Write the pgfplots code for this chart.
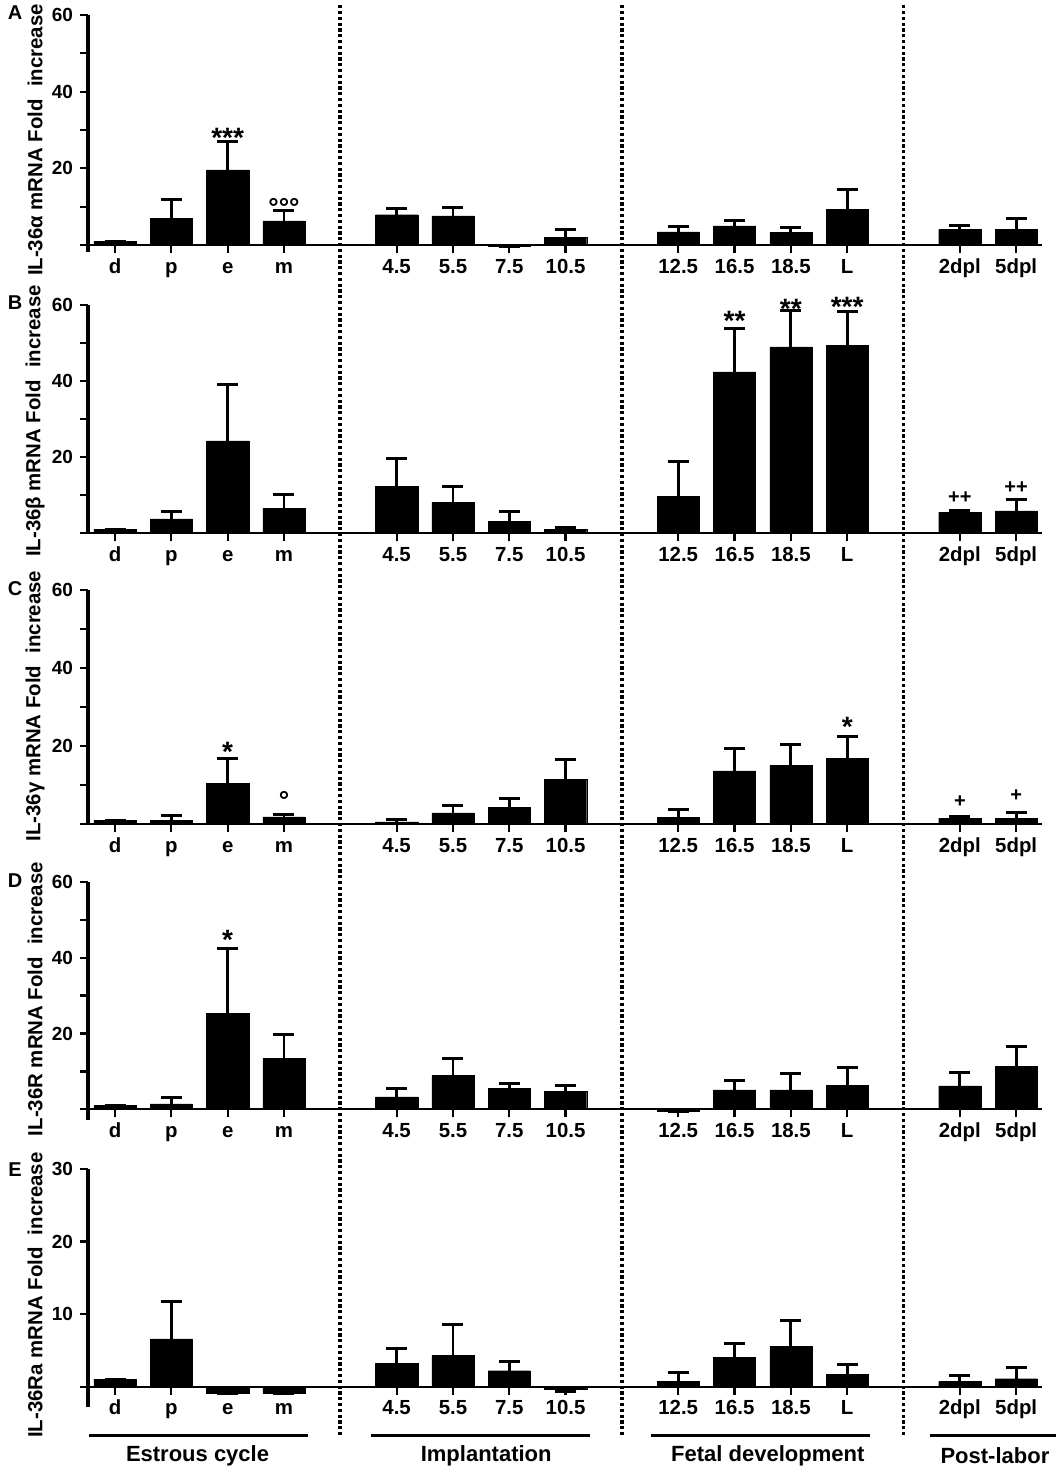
\documentclass[border=0pt]{standalone}
\usepackage{pgfplots}
\pgfplotsset{compat=1.18}
\usepackage{fontspec}
\setmainfont{Liberation Sans}
\newcommand{\fs}[1]{\fontsize{#1}{#1}\selectfont}
\newcommand{\st}[3]{\node[font=\bfseries\fs{14bp}, inner sep=0pt, anchor=base, yshift=-8bp] at (axis cs:#1,#2) {#3};}
\newcommand{\dg}[3]{\node[font=\bfseries\fs{13bp}, inner sep=0pt, anchor=base, yshift=-7.5bp] at (axis cs:#1,#2) {#3};}
\newcommand{\pl}[3]{\node[font=\bfseries\fs{10bp}, inner sep=0pt, anchor=base, yshift=-3.5bp] at (axis cs:#1,#2) {#3};}
\pgfplotsset{
  panel/.style={
    anchor=south west,
    x=28.16bp,
    xmin=-0.48, xmax=16.45,
    axis y line*=left, axis x line*=middle,
    tick align=outside,
    hide obscured y ticks=false, hide obscured x ticks=false,
    xtick={0,1,2,3,5,6,7,8,10,11,12,13,15,16},
    xticklabels={d,p,e,m,4.5,5.5,7.5,10.5,12.5,16.5,18.5,L,2dpl,5dpl},
    x tick label style={font=\bfseries\fs{10.2bp}, anchor=base, yshift=-10bp},
    y tick label style={font=\bfseries\fs{9.5bp}},
    major tick length=4bp,
    x axis line style={line width=1.15bp},
    y axis line style={line width=2.15bp},
    every tick/.style={black, line width=1.1bp},
    clip=false,
    /pgf/number format/assume math mode=true,
    ytick={0,10,...,60}, yticklabels={,,20,,40,,60},
  },
  bars/.style={ybar, bar width=0.75, fill=black, draw=black, line width=0.2bp,
    error bars/.cd, y dir=plus, y explicit,
    error bar style={line width=1.4bp, black},
    error mark options={rotate=90, line width=1.5bp, mark size=5.25bp, black}},
}
\begin{document}
\begin{tikzpicture}
% ---------- A ----------
\begin{axis}[panel, at={(44bp,-125.95bp)}, y=1.9165bp, ymin=-1.8, ymax=60]
\addplot[bars] coordinates {
 (0,1.0) +- (0,0)
 (1,6.9) +- (0,5.0)
 (2,19.6) +- (0,7.4)
 (3,6.3) +- (0,2.6)
 (5,7.9) +- (0,1.6)
 (6,7.6) +- (0,2.1)
 (7,-0.4) +- (0,0)
 (8,2.0) +- (0,2.1)
 (10,3.4) +- (0,1.4)
 (11,5.0) +- (0,1.3)
 (12,3.3) +- (0,1.3)
 (13,9.3) +- (0,5.3)
 (15,4.0) +- (0,1.2)
 (16,4.1) +- (0,2.7)
};
\st{2}{29.7}{***}
\dg{3}{11.3}{°°°}
\end{axis}
% ---------- B ----------
\begin{axis}[panel, at={(44bp,-266.65bp)}, y=1.9025bp, ymin=0, ymax=60]
\addplot[bars] coordinates {
 (0,1.1) +- (0,0)
 (1,3.8) +- (0,1.9)
 (2,24.3) +- (0,14.9)
 (3,6.6) +- (0,3.7)
 (5,12.4) +- (0,7.2)
 (6,8.1) +- (0,4.2)
 (7,3.2) +- (0,2.6)
 (8,1.0) +- (0,0.4)
 (10,9.8) +- (0,9.2)
 (11,42.4) +- (0,11.4)
 (12,49.0) +- (0,9.5)
 (13,49.4) +- (0,8.8)
 (15,5.5) +- (0,0.6)
 (16,5.9) +- (0,3.1)
};
\st{11}{57.4}{**}
\st{12}{60.6}{**}
\st{13}{61.1}{***}
\pl{15}{9.8}{++}
\pl{16}{12.4}{++}
\end{axis}
% ---------- C ----------
\begin{axis}[panel, at={(44bp,-412.15bp)}, y=1.953bp, ymin=0, ymax=60]
\addplot[bars] coordinates {
 (0,1.1) +- (0,0)
 (1,1.0) +- (0,1.2)
 (2,10.5) +- (0,6.3)
 (3,1.9) +- (0,0.7)
 (5,0.6) +- (0,0.7)
 (6,2.9) +- (0,2.0)
 (7,4.4) +- (0,2.2)
 (8,11.5) +- (0,5.0)
 (10,1.8) +- (0,1.9)
 (11,13.7) +- (0,5.6)
 (12,15.1) +- (0,5.3)
 (13,16.8) +- (0,5.7)
 (15,1.5) +- (0,0.6)
 (16,1.5) +- (0,1.6)
};
\st{2}{20.3}{*}
\dg{3}{7.7}{°}
\st{13}{26.5}{*}
\pl{15}{6.2}{+}
\pl{16}{7.7}{+}
\end{axis}
% ---------- D ----------
\begin{axis}[panel, at={(44bp,-559.95bp)}, y=1.895bp, ymin=-2.8, ymax=60]
\addplot[bars] coordinates {
 (0,1.0) +- (0,0)
 (1,1.4) +- (0,1.6)
 (2,25.4) +- (0,17.0)
 (3,13.4) +- (0,6.4)
 (5,3.3) +- (0,2.1)
 (6,8.9) +- (0,4.4)
 (7,5.5) +- (0,1.2)
 (8,4.7) +- (0,1.5)
 (10,-0.5) +- (0,0)
 (11,5.1) +- (0,2.5)
 (12,5.1) +- (0,4.4)
 (13,6.4) +- (0,4.6)
 (15,6.2) +- (0,3.6)
 (16,11.4) +- (0,5.2)
};
\st{2}{46.4}{*}
\end{axis}
% ---------- E ----------
\begin{axis}[panel, at={(44bp,-703.5bp)}, y=3.628bp, ymin=-2.8, ymax=30,
  ytick={0,10,20,30}, yticklabels={,10,20,30}]
\addplot[bars] coordinates {
 (0,1.05) +- (0,0)
 (1,6.6) +- (0,5.2)
 (2,-0.9) +- (0,0)
 (3,-0.9) +- (0,0)
 (5,3.2) +- (0,2.0)
 (6,4.3) +- (0,4.3)
 (7,2.2) +- (0,1.3)
 (8,-0.3) +- (0,-0.35)
 (10,0.7) +- (0,1.2)
 (11,4.0) +- (0,2.0)
 (12,5.6) +- (0,3.5)
 (13,1.7) +- (0,1.3)
 (15,0.7) +- (0,0.9)
 (16,1.1) +- (0,1.6)
};
% separators across all panels
\draw[line width=1.9bp, dash pattern=on 1.6bp off 1.3bp] (axis cs:4,190.4) -- (axis cs:4,-6.94);
\draw[line width=1.9bp, dash pattern=on 1.6bp off 1.3bp] (axis cs:9,190.4) -- (axis cs:9,-6.94);
\draw[line width=1.9bp, dash pattern=on 1.6bp off 1.3bp] (axis cs:14,190.4) -- (axis cs:14,-6.94);
% group underlines and labels
\draw[line width=1.6bp] (axis cs:-0.46,-6.75) -- (axis cs:3.43,-6.75);
\draw[line width=1.6bp] (axis cs:4.55,-6.75) -- (axis cs:8.43,-6.75);
\draw[line width=1.6bp] (axis cs:9.52,-6.75) -- (axis cs:13.41,-6.75);
\draw[line width=1.6bp] (axis cs:14.47,-6.75) -- (axis cs:16.8,-6.75);
\node[font=\bfseries\fs{11bp}] at (axis cs:1.465,-9.55) {Estrous cycle};
\node[font=\bfseries\fs{11bp}] at (axis cs:6.59,-9.55) {Implantation};
\node[font=\bfseries\fs{11bp}] at (axis cs:11.59,-9.55) {Fetal development};
\node[font=\bfseries\fs{11bp}, anchor=west, inner sep=0pt] at (axis cs:14.65,-9.55) {Post-labor};
\end{axis}
% y labels and panel letters
\begin{scope}[every node/.style={font=\bfseries\fs{10.2bp}, rotate=90}]
\node at (17.5bp,-70bp) {IL-36α mRNA Fold\hspace{0.6em}increase};
\node at (17.5bp,-210.5bp) {IL-36β mRNA Fold\hspace{0.6em}increase};
\node at (17.5bp,-353bp) {IL-36γ mRNA Fold\hspace{0.6em}increase};
\node at (17.5bp,-499.5bp) {IL-36R mRNA Fold\hspace{0.6em}increase};
\node at (17.5bp,-647.5bp) {IL-36Ra mRNA Fold\hspace{0.6em}increase};
\end{scope}
\begin{scope}[every node/.style={font=\bfseries\fs{10bp}}]
\node at (7.5bp,-6.5bp) {A};
\node at (7.5bp,-151.5bp) {B};
\node at (7.5bp,-294.5bp) {C};
\node at (7.5bp,-440.5bp) {D};
\node at (7.5bp,-585bp) {E};
\end{scope}
\pgfresetboundingbox
\path (0,0) rectangle (528bp,-735bp);
\end{tikzpicture}
\end{document}
